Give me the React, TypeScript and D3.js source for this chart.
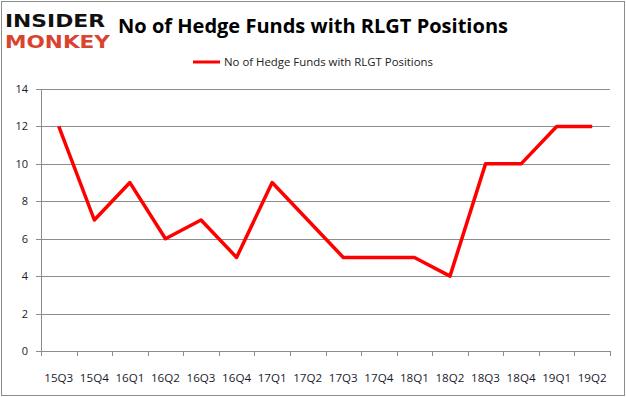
import React, { useEffect } from 'react';
import * as d3 from 'd3';

const quarters = ['15Q3', '15Q4', '16Q1', '16Q2', '16Q3', '16Q4', '17Q1', '17Q2', '17Q3', '17Q4', '18Q1', '18Q2', '18Q3', '18Q4', '19Q1', '19Q2'];
const funds = [12, 7, 9, 6, 7, 5, 9, 7, 5, 5, 5, 4, 10, 10, 12, 12];
const yTicks = [0, 2, 4, 6, 8, 10, 12, 14];
const seriesName = 'No of Hedge Funds with RLGT Positions';

const W = 626;
const H = 397;
const left = 41;
const right = 610;
const top = 89;
const bottom = 351;

export default function App() {
  useEffect(() => {
    document.body.style.margin = '0';
  }, []);

  const x = d3.scaleBand<string>().domain(quarters).range([left, right]);
  const y = d3.scaleLinear().domain([0, 14]).range([bottom, top]);
  const line = d3.line<number>()
    .x((d, i) => (x(quarters[i]) as number) + x.bandwidth() / 2)
    .y(d => y(d));

  const grid = '#8c8c8c';

  return (
    <svg width={W} height={H} style={{ display: 'block', background: '#fff' }}>
      <rect x={1.5} y={1.5} width={W - 3} height={H - 3} fill="white" stroke="#8c8c8c" />
      {/* logo */}
      <text x={5} y={27} fontFamily="'DejaVu Sans', sans-serif" fontWeight="bold" fontSize={18} fill="#111" textLength={100} lengthAdjust="spacingAndGlyphs">INSIDER</text>
      <text x={5} y={48} fontFamily="'DejaVu Sans', sans-serif" fontWeight="bold" fontSize={18} fill="#d9432f" textLength={105} lengthAdjust="spacingAndGlyphs">MONKEY</text>
      {/* title */}
      <text x={313} y={33} textAnchor="middle" fontFamily="'Open Sans', sans-serif" fontWeight="bold" fontSize={20} fill="#000" textLength={390} lengthAdjust="spacingAndGlyphs">{seriesName}</text>
      {/* legend */}
      <line x1={193} x2={220} y1={62} y2={62} stroke="#ff0000" strokeWidth={3} />
      <text x={224} y={66} fontFamily="'Open Sans', sans-serif" fontSize={11} fill="#222" textLength={209} lengthAdjust="spacingAndGlyphs">{seriesName}</text>
      {/* grid */}
      {yTicks.map(t => (
        <g key={t}>
          <line x1={left - 5} x2={right} y1={Math.round(y(t)) + 0.5} y2={Math.round(y(t)) + 0.5} stroke={grid} />
          <text x={28} y={y(t) + 4} textAnchor="end" fontFamily="'Open Sans', sans-serif" fontSize={11} fill="#1a1a2e">{t}</text>
        </g>
      ))}
      <line x1={left + 0.5} x2={left + 0.5} y1={top} y2={bottom} stroke={grid} />
      {quarters.map((q, i) => (
        <line key={'t' + q} x1={Math.round(left + i * x.step()) + 0.5} x2={Math.round(left + i * x.step()) + 0.5} y1={bottom} y2={bottom + 5} stroke={grid} />
      ))}
      <line x1={right + 0.5} x2={right + 0.5} y1={bottom} y2={bottom + 5} stroke={grid} />
      {quarters.map(q => (
        <text key={q} x={(x(q) as number) + x.bandwidth() / 2} y={382} textAnchor="middle" fontFamily="'Open Sans', sans-serif" fontSize={11} fill="#1a1a2e" textLength={29} lengthAdjust="spacingAndGlyphs">{q}</text>
      ))}
      <path d={line(funds) || ''} fill="none" stroke="#ff0000" strokeWidth={3.5} strokeLinejoin="round" />
    </svg>
  );
}
